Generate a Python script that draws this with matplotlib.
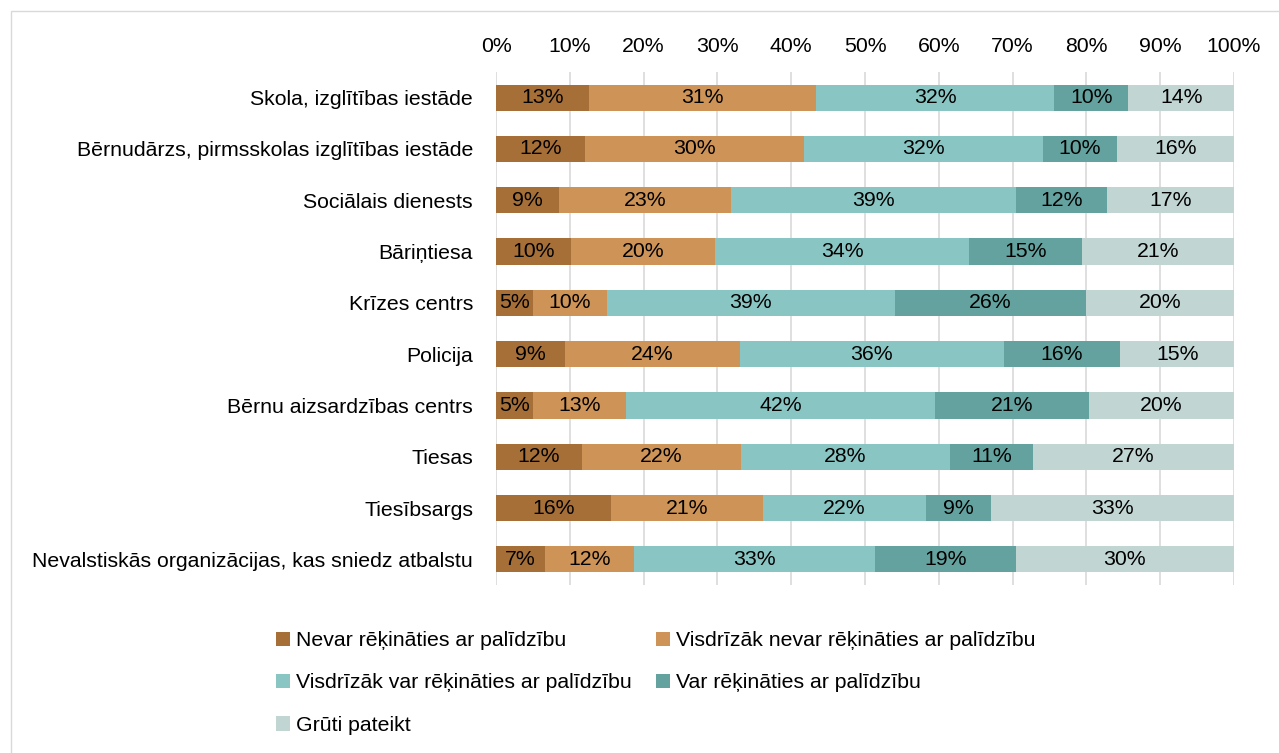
import matplotlib.pyplot as plt
import numpy as np
from matplotlib.patches import Rectangle

plt.rcParams['font.family'] = ['Liberation Sans', 'DejaVu Sans']

categories = [
    'Skola, izglītības iestāde',
    'Bērnudārzs, pirmsskolas izglītības iestāde',
    'Sociālais dienests',
    'Bāriņtiesa',
    'Krīzes centrs',
    'Policija',
    'Bērnu aizsardzības centrs',
    'Tiesas',
    'Tiesībsargs',
    'Nevalstiskās organizācijas, kas sniedz atbalstu',
]
series = [
    'Nevar rēķināties ar palīdzību',
    'Visdrīzāk nevar rēķināties ar palīdzību',
    'Visdrīzāk var rēķināties ar palīdzību',
    'Var rēķināties ar palīdzību',
    'Grūti pateikt',
]
nevar = [12.6, 12.1, 8.6, 10.1, 5.0, 9.3, 5.0, 11.6, 15.6, 6.6]
visdr_nevar = [30.8, 29.6, 23.2, 19.6, 10.0, 23.7, 12.6, 21.6, 20.6, 12.1]
visdr_var = [32.2, 32.4, 38.7, 34.4, 39.0, 35.8, 41.9, 28.3, 22.0, 32.7]
var = [10.1, 10.0, 12.3, 15.3, 25.9, 15.8, 20.8, 11.3, 8.9, 19.0]
gruti = [14.3, 15.9, 17.2, 20.6, 20.1, 15.4, 19.7, 27.2, 32.9, 29.6]
colors = ['#A66F38', '#CD9357', '#89C6C3', '#63A29E', '#C1D5D3']

fs = 15.3

fig = plt.figure(figsize=(12.79, 7.53), dpi=100)
fig.patches.append(Rectangle((11 / 1279, -0.01), 1.0, 1 - 11 / 753 + 0.01,
                             transform=fig.transFigure, fill=False,
                             edgecolor='#D9D9D9', linewidth=1))
ax = fig.add_axes([496 / 1279, 1 - 585 / 753, 738 / 1279, 513 / 753])

y = np.arange(len(categories))
left = np.zeros(len(categories))
for vals, name, c in zip([nevar, visdr_nevar, visdr_var, var, gruti], series, colors):
    vals = np.array(vals)
    bars = ax.barh(y, vals, left=left, height=0.51, color=c, label=name, zorder=2)
    ax.bar_label(bars, labels=[f'{v:.0f}%' for v in vals], label_type='center',
                 fontsize=fs, color='black')
    left += vals

ax.set_xlim(0, 100)
ax.set_ylim(len(categories) - 0.5, -0.5)
ax.set_xticks(np.arange(0, 101, 10))
ax.set_xticklabels([f'{t}%' for t in range(0, 101, 10)])
ax.xaxis.tick_top()
ax.set_yticks(y)
ax.set_yticklabels(categories)
ax.tick_params(axis='both', length=0, labelsize=fs)
ax.tick_params(axis='x', pad=11.5)
ax.tick_params(axis='y', pad=16.5)
ax.grid(axis='x', color='#D9D9D9', linewidth=1.2, zorder=0)
for s in ax.spines.values():
    s.set_visible(False)

h, l = ax.get_legend_handles_labels()
order = [0, 2, 4, 1, 3]
fig.legend([h[i] for i in order], [l[i] for i in order], ncol=2,
           loc='upper left', bbox_to_anchor=(257 / 1279, 1 - 612 / 753),
           frameon=False, fontsize=fs, handlelength=0.65, handleheight=0.65,
           handletextpad=0.28, columnspacing=1.15, labelspacing=1.1)

plt.savefig('out.png')
